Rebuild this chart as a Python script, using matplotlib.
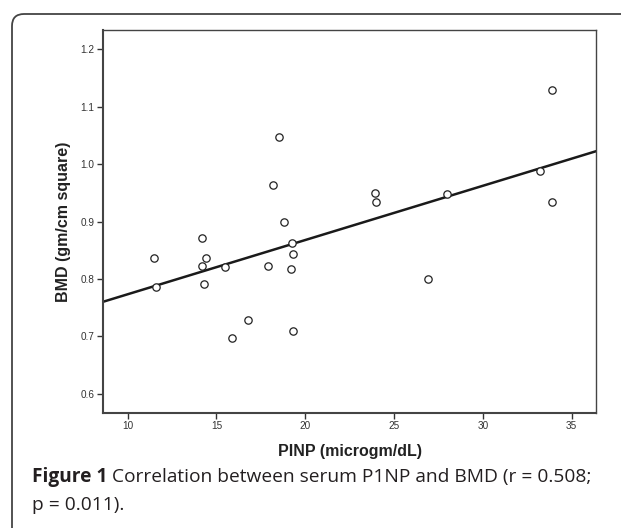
import numpy as np
import matplotlib
matplotlib.use("Agg")
import matplotlib.pyplot as plt
from matplotlib.patches import FancyBboxPatch
from matplotlib.transforms import IdentityTransform

# PINP (microgm/dL) vs BMD (gm/cm square)
pinp = [18.50, 18.20, 18.80, 14.18, 11.50, 14.39, 19.27, 19.29, 14.20, 15.50,
        17.88, 19.20, 11.59, 14.30, 16.79, 19.29, 15.89,
        33.91, 33.20, 23.91, 24.00, 28.00, 33.91, 26.89]
bmd = [1.048, 0.963, 0.900, 0.871, 0.837, 0.837, 0.863, 0.844, 0.823, 0.821,
       0.823, 0.818, 0.786, 0.791, 0.729, 0.709, 0.696,
       1.129, 0.988, 0.949, 0.934, 0.948, 0.934, 0.800]

# linear fit line as shown in the figure
fit_intercept = 0.6785
fit_slope = 0.00946

xticks = [10, 15, 20, 25, 30, 35]
yticks = [0.6, 0.7, 0.8, 0.9, 1.0, 1.1, 1.2]
xlim = (8.61, 36.37)
ylim = (0.566, 1.234)

fig = plt.figure(figsize=(6.21, 5.28), dpi=100)
W, H = 621, 528

# rounded outer frame (runs off the right and bottom edges)
frame = FancyBboxPatch((12, -30), 660, H - 14 + 30,
                       boxstyle="round,pad=0,rounding_size=12",
                       transform=IdentityTransform(), facecolor="none",
                       edgecolor="#444444", linewidth=1.3)
fig.patches.append(frame)

ax = fig.add_axes([103 / W, 1 - 413 / H, (596 - 103) / W, (413 - 30) / H])

ax.scatter(pinp, bmd, s=28, facecolors="white", edgecolors="#222222",
           linewidths=0.9, zorder=3)

xs = np.array(xlim)
ax.plot(xs, fit_intercept + fit_slope * xs, color="#1a1a1a", lw=1.8, zorder=2)

ax.set_xlim(xlim)
ax.set_ylim(ylim)
ax.set_xticks(xticks)
ax.set_yticks(yticks)
ax.set_xticklabels([str(t) for t in xticks])
ax.set_yticklabels(["%.1f" % t for t in yticks])

for s in ["left", "bottom"]:
    ax.spines[s].set_linewidth(1.5)
    ax.spines[s].set_color("#444444")
for s in ["top", "right"]:
    ax.spines[s].set_linewidth(1.0)
    ax.spines[s].set_color("#444444")

ax.tick_params(direction="out", length=4.5, width=1.0, color="#333333",
               labelsize=7.2, labelcolor="#333333", pad=1.5)
for lab in ax.get_xticklabels() + ax.get_yticklabels():
    lab.set_family("Liberation Sans")

ax.set_xlabel("PINP (microgm/dL)", family="Liberation Sans", fontweight="bold",
              fontsize=11.5, color="#222222", labelpad=9)
ax.set_ylabel("BMD (gm/cm square)", family="Liberation Sans", fontweight="bold",
              fontsize=11.5, color="#222222", labelpad=7)

# caption: bold "Figure 1" followed by regular text
fig.canvas.draw()
r = fig.canvas.get_renderer()
cap_font = "Open Sans"
cap_size = 13.8
t1 = fig.text(32 / W, 1 - 477 / H, "Figure 1", family=cap_font, fontweight="bold",
              fontsize=cap_size, va="center", color="#231f20")
bb = t1.get_window_extent(r)
fig.text((bb.x1 + 5) / W, 1 - 477 / H,
         "Correlation between serum P1NP and BMD (r = 0.508;",
         family=cap_font, fontsize=cap_size, va="center", color="#231f20")
fig.text(32 / W, 1 - 505 / H, "p = 0.011).", family=cap_font, fontsize=cap_size,
         va="center", color="#231f20")

fig.savefig("out.png", dpi=100)
